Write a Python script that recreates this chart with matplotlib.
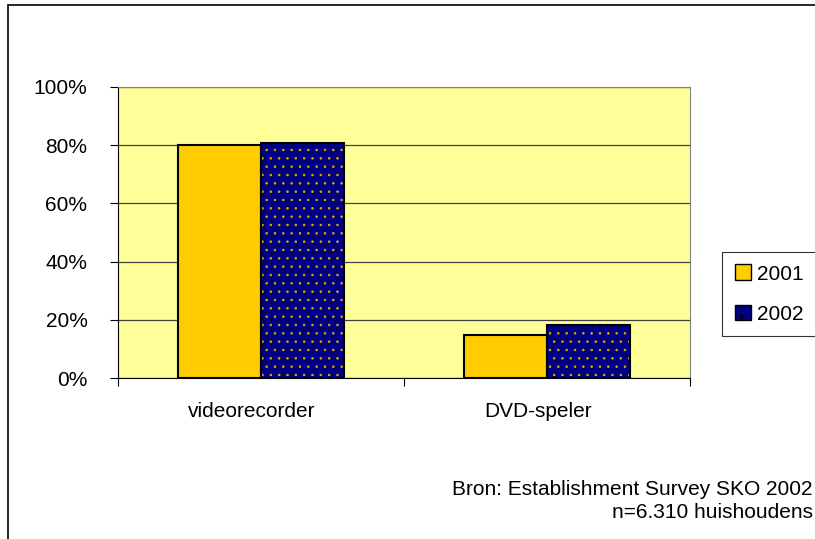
import numpy as np
import matplotlib.pyplot as plt
import matplotlib.transforms as mtransforms
from matplotlib.patches import Rectangle, Patch

plt.rcParams['font.family'] = ['Liberation Sans', 'DejaVu Sans']
plt.rcParams['hatch.linewidth'] = 0.6

# data
categories = ['videorecorder', 'DVD-speler']
years = ['2001', '2002']
v2001 = [80.0, 14.8]
v2002 = [80.6, 18.1]

FS = 15

fig = plt.figure(figsize=(8.15, 5.39), dpi=100)
fig.patch.set_facecolor('white')
ax = fig.add_axes([118 / 815, 161 / 539, 572 / 815, 291 / 539])
ax.set_facecolor('#FFFF99')

x = np.arange(len(categories))
w = 0.29
ax.bar(x - w / 2, v2001, w, color='#FFCC00', edgecolor='black', linewidth=1.5, zorder=3)
# dotted navy bars: hatch first, black outline on top
ax.bar(x + w / 2, v2002, w, color='#000080', edgecolor='#E0A800', hatch='..',
       linewidth=0, zorder=3)
ax.bar(x + w / 2, v2002, w, fill=False, edgecolor='black', linewidth=1.5, zorder=4)

ax.set_xlim(-0.5, 1.5)
ax.set_ylim(0, 100)
ax.set_yticks(np.arange(0, 101, 20))
ax.set_yticklabels([f'{t}%' for t in range(0, 101, 20)], fontsize=FS)
ax.yaxis.grid(True, color='#404040', linewidth=0.9, zorder=1)
ax.set_axisbelow(True)

# category ticks between groups, labels centred
ax.set_xticks([-0.5, 0.5, 1.5])
ax.set_xticklabels([])
ax.set_xticks(x, minor=True)
ax.set_xticklabels(categories, minor=True, fontsize=FS)
ax.tick_params(axis='x', which='minor', length=0, pad=17)
ax.tick_params(axis='x', which='major', length=6, color='black')
ax.tick_params(axis='y', length=6, pad=16)
shift = mtransforms.ScaledTranslation(-9 / 100, 0, fig.dpi_scale_trans)
for lbl in ax.get_xticklabels(minor=True):
    lbl.set_transform(lbl.get_transform() + shift)

for s in ['top', 'right']:
    ax.spines[s].set_color('#808080')
for s in ['left', 'bottom']:
    ax.spines[s].set_color('black')

handles = [Patch(facecolor='#FFCC00', edgecolor='black', label='2001'),
           Patch(facecolor='#000080', edgecolor='#E0A800', hatch='.', label='2002')]
leg = fig.legend(handles=handles, loc='upper left', bbox_to_anchor=(722 / 815, 1 - 252 / 539),
                 frameon=True, fancybox=False, edgecolor='black', fontsize=FS,
                 handlelength=0.8, handleheight=0.8, handletextpad=0.3,
                 labelspacing=1.0, borderpad=0.6, borderaxespad=0)
leg.get_frame().set_linewidth(0.8)
for p in leg.get_patches():
    p.set_linewidth(1.0)
    p.set_edgecolor('black')

fig.text(452 / 815, 1 - 495 / 539, 'Bron: Establishment Survey SKO 2002',
         fontsize=FS, ha='left', va='baseline')
fig.text(612 / 815, 1 - 518 / 539, 'n=6.310 huishoudens',
         fontsize=FS, ha='left', va='baseline')

# outer chart border (cut at right and bottom)
fig.patches.append(Rectangle((8 / 815, -0.2), 1.2, 1 - 5 / 539 + 0.2, transform=fig.transFigure,
                             fill=False, edgecolor='black', linewidth=1.2))

fig.savefig('out.png', dpi=100)
